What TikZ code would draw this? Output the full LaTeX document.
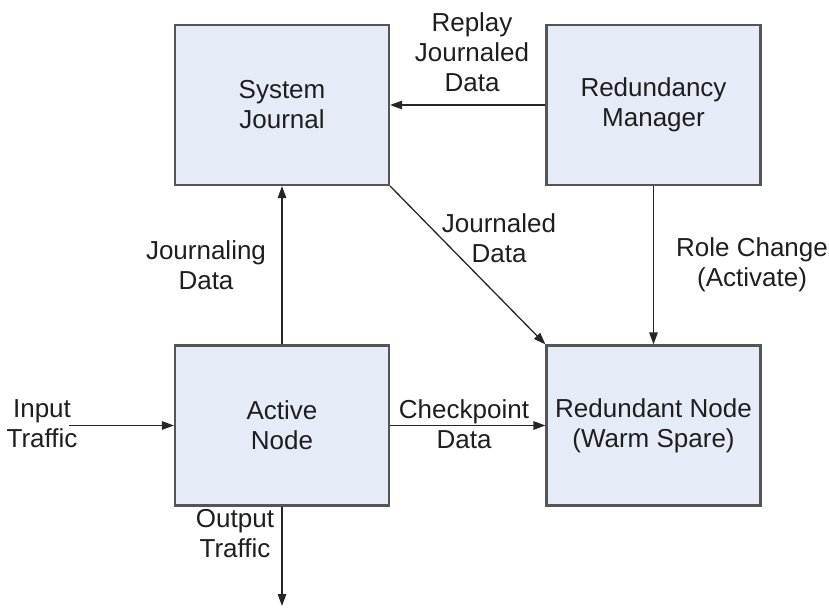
\documentclass[tikz,border=0pt]{standalone}
\usepackage{fontspec}
\setmainfont{Liberation Sans}
\usetikzlibrary{arrows.meta,positioning}
\definecolor{boxfill}{RGB}{230,236,247}
\definecolor{boxline}{RGB}{85,85,85}
\definecolor{txt}{RGB}{30,30,30}
\tikzset{
  blk/.style={draw=boxline, line width=2.2pt, fill=boxfill, minimum width=214pt, minimum height=160pt, inner sep=0pt, align=center, text=txt, font=\fontsize{26}{30}\selectfont},
  lbl/.style={align=center, text=txt, font=\fontsize{26}{30}\selectfont, inner sep=0pt},
  conn/.style={draw=black!85, line width=1.3pt, -{Triangle[length=12pt,width=8.5pt]}}
}
\begin{document}
\begin{tikzpicture}[x=1pt,y=-1pt]
\useasboundingbox (0,0) rectangle (829,609);
\node[blk] (sj) at (282,105) {System\\Journal};
\node[blk] (rm) at (653.5,105) {Redundancy\\Manager};
\node[blk] (an) at (282,425.5) {Active\\Node};
\node[blk] (rn) at (653.5,425.5) {Redundant Node\\(Warm Spare)};
\coordinate (in) at (69,425.5);
\coordinate (out) at (282,606);
% connectors
\draw[conn] (rm.west) -- (sj.east);
\draw[conn] (an.north) -- (sj.south);
\draw[conn] (sj.south east) -- (rn.north west);
\draw[conn] (rm.south) -- (rn.north);
\draw[conn] (an.east) -- (rn.west);
\draw[conn] (in) -- (an.west);
\draw[conn] (an.south) -- (out);
% labels
\node[lbl] (l1) at (472,52) {Replay\\Journaled\\Data};
\node[lbl] (l2) at (206,265) {Journaling\\Data};
\node[lbl] (l3) at (499,238) {Journaled\\Data};
\node[lbl] (l4) at (752,265) {Role Change\\(Activate)};
\node[lbl] (l5) at (464,424) {Checkpoint\\Data};
\node[lbl] (l6) at (42,424) {Input\\Traffic};
\node[lbl] (l7) at (235,534) {Output\\Traffic};
\end{tikzpicture}
\end{document}
